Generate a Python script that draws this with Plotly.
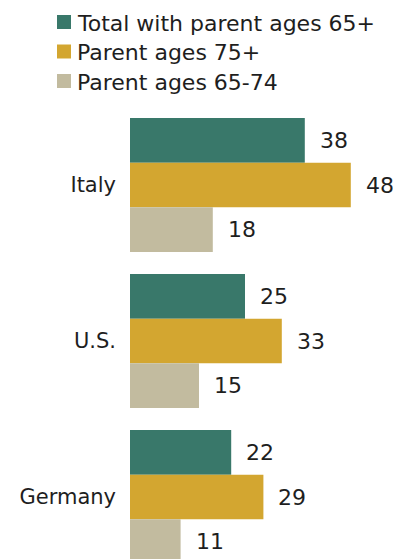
import plotly.graph_objects as go

countries = ["Italy", "U.S.", "Germany"]
series_names = ["Total with parent ages 65+", "Parent ages 75+", "Parent ages 65-74"]
total_65 = [38, 25, 22]
ages_75 = [48, 33, 29]
ages_65_74 = [18, 15, 11]

colors = ["#39786a", "#d3a630", "#c2bb9f"]
FONT = "DejaVu Sans"
TXT = "#1e1e1e"

series = [total_65, ages_75, ages_65_74]
bargap = 0.141
bw = (1 - bargap) / 3

# page body has an 8px margin: figure origin at (8, 8)
OX, OY = 8, 8
W, H = 401 - OX, 559 - OY
left_px = 130 - OX
top_px = 110 - OY

fig = go.Figure()
for name, vals, col in zip(series_names, series, colors):
    fig.add_trace(go.Bar(
        x=vals, y=countries, orientation="h", name=name,
        marker=dict(color=col, line=dict(width=0)),
        showlegend=False, hoverinfo="skip",
    ))

annotations = []
for si, vals in enumerate(series):
    off = (si - 1) * bw
    for ci, v in enumerate(vals):
        annotations.append(dict(
            x=v, y=ci + off, xref="x", yref="y", text=str(v),
            showarrow=False, xanchor="left", yanchor="middle", xshift=13,
            font=dict(family=FONT, size=22, color=TXT),
        ))

# custom legend (row centres in window pixels from top)
legend_rows_px = [22, 51.5, 81]
shapes = []
for i, (name, col) in enumerate(zip(series_names, colors)):
    cy = 110 - legend_rows_px[i]
    shapes.append(dict(
        type="rect", xref="paper", yref="paper", xsizemode="pixel", ysizemode="pixel",
        xanchor=0, yanchor=1, x0=-73, x1=-59, y0=cy - 7, y1=cy + 7,
        fillcolor=col, line=dict(width=0),
    ))
    annotations.append(dict(
        x=0, y=1, xref="paper", yref="paper", text=name, showarrow=False,
        xanchor="left", yanchor="middle", xshift=-55, yshift=cy - 1,
        font=dict(family=FONT, size=22, color=TXT),
    ))

px_per_cat = 156.0
italy_center_px = 185.0
y_top = 0 - (italy_center_px - 110) / px_per_cat
y_bot = (559 - italy_center_px) / px_per_cat

fig.update_layout(
    width=W, height=H,
    margin=dict(l=left_px, r=0, t=top_px, b=0, pad=0),
    paper_bgcolor="white", plot_bgcolor="white",
    barmode="group", bargap=bargap, bargroupgap=0,
    showlegend=False,
    xaxis=dict(range=[0, (401 - 130) / 4.6], visible=False, fixedrange=True),
    yaxis=dict(range=[y_bot, y_top], showgrid=False, zeroline=False, showline=False,
               ticks="", ticklabelstandoff=13,
               tickfont=dict(family=FONT, size=21, color=TXT), fixedrange=True),
    annotations=annotations, shapes=shapes,
)

fig.write_html("out.html")
